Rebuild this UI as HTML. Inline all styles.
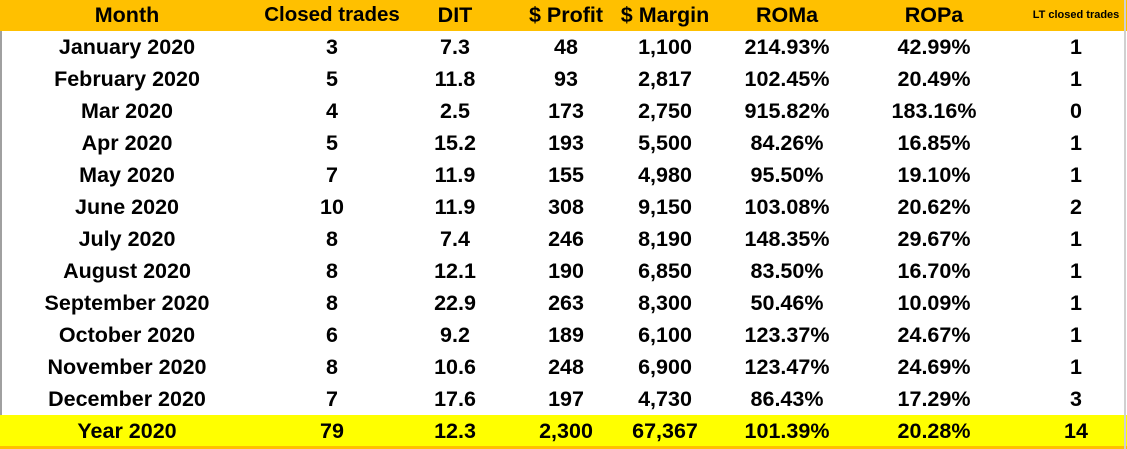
<!DOCTYPE html><html><head><style>
body{margin:0;width:1127px;height:449px;background:#fff;position:relative;overflow:hidden;font-family:"Liberation Sans",sans-serif;font-weight:bold;font-size:21.5px;color:#000}
.hd{position:absolute;left:0;top:0;width:1127px;height:31px;background:#FFC000}
.tt{position:absolute;left:0;top:415px;width:1127px;height:31px;background:#FFFF00}
.ob{position:absolute;left:0;top:446px;width:1127px;height:3px;background:#FFC000}
.lb{position:absolute;left:0;top:31px;width:2px;height:384px;background:#a0a0a0}
.rb{position:absolute;left:1124px;top:0;width:2px;height:449px;background:#d0d0d0}
.r{position:absolute;left:0;width:1127px;height:32px;line-height:32px}
.r span{position:absolute;transform:translateX(-50%);white-space:nowrap}
</style></head><body>
<div class="hd"></div><div class="tt"></div><div class="ob"></div><div class="lb"></div><div class="rb"></div>
<div id="c"></div>
<script>
const xs=[127,332,455,566,665,787,934,1076];
const rows=[
["Month","Closed trades","DIT","$ Profit","$ Margin","ROMa","ROPa","LT closed trades"],
["January 2020","3","7.3","48","1,100","214.93%","42.99%","1"],
["February 2020","5","11.8","93","2,817","102.45%","20.49%","1"],
["Mar 2020","4","2.5","173","2,750","915.82%","183.16%","0"],
["Apr 2020","5","15.2","193","5,500","84.26%","16.85%","1"],
["May 2020","7","11.9","155","4,980","95.50%","19.10%","1"],
["June 2020","10","11.9","308","9,150","103.08%","20.62%","2"],
["July 2020","8","7.4","246","8,190","148.35%","29.67%","1"],
["August 2020","8","12.1","190","6,850","83.50%","16.70%","1"],
["September 2020","8","22.9","263","8,300","50.46%","10.09%","1"],
["October 2020","6","9.2","189","6,100","123.37%","24.67%","1"],
["November 2020","8","10.6","248","6,900","123.47%","24.69%","1"],
["December 2020","7","17.6","197","4,730","86.43%","17.29%","3"],
["Year 2020","79","12.3","2,300","67,367","101.39%","20.28%","14"]];
let h="";
rows.forEach((r,i)=>{const cy=i==0?15:(i==13?431:47+(i-1)*32);
h+=`<div class="r" style="top:${cy-16}px">`;
r.forEach((t,j)=>{h+=`<span style="left:${xs[j]}px${i==0&&j==7?';font-size:11px':''}${i==0&&j==1?';font-size:20.5px':''}">${t}</span>`});
h+="</div>";});
document.getElementById("c").innerHTML=h;
</script>
</body></html>
